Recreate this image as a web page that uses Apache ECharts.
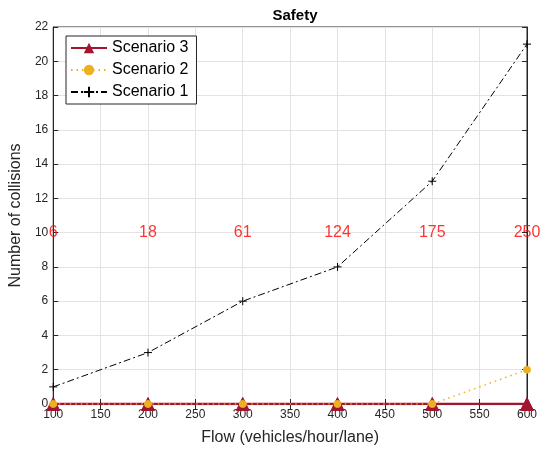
<!DOCTYPE html>
<html><head><meta charset="utf-8">
<script src="https://cdn.jsdelivr.net/npm/echarts@6/dist/echarts.min.js"></script>
<style>html,body{margin:0;padding:0;background:#fff}#c{width:540px;height:451px}</style>
</head><body><div id="c"></div>
<script>
const flow = [100, 200, 300, 400, 500, 600];
const scenario1 = [1, 3, 6, 8, 13, 21];
const scenario2 = [0, 0, 0, 0, 0, 2];
const scenario3 = [0, 0, 0, 0, 0, 0];
const annotations = ['6', '18', '61', '124', '175', '250'];
const annotationY = 10;

const font = 'Liberation Sans, Arial, Helvetica, sans-serif';
const axisCol = '#262626';
const pair = (xs, ys) => xs.map((x, i) => [x, ys[i]]);

const chart = echarts.init(document.getElementById('c'), null, {renderer: 'canvas'});
const xBase = {type: 'value', min: 100, max: 600, interval: 50};
const yBase = {type: 'value', min: 0, max: 22, interval: 2};
chart.setOption({
  animation: false,
  backgroundColor: '#fff',
  title: {text: 'Safety', left: 290, top: 3, textAlign: 'center',
    textStyle: {fontFamily: font, fontSize: 15, fontWeight: 'bold', color: '#000'}},
  grid: {left: 50, right: 11, top: 27, bottom: 46, show: true, borderColor: axisCol, borderWidth: 1},
  legend: {
    data: ['Scenario 3', 'Scenario 2', 'Scenario 1'],
    orient: 'vertical', left: 66, top: 36, itemWidth: 36, itemHeight: 13, itemGap: 6,
    padding: [4, 8, 4, 4],
    backgroundColor: '#fff', borderColor: '#262626', borderWidth: 1,
    textStyle: {fontFamily: font, fontSize: 16, color: '#000'}
  },
  xAxis: [
    Object.assign({}, xBase, {
      name: 'Flow (vehicles/hour/lane)', nameLocation: 'middle', nameGap: 26,
      nameTextStyle: {fontFamily: font, fontSize: 16, color: axisCol},
      axisLine: {lineStyle: {color: axisCol}},
      axisTick: {inside: true, length: 5, lineStyle: {color: axisCol}},
      axisLabel: {fontFamily: font, fontSize: 12, color: axisCol, margin: 5},
      splitLine: {show: true, lineStyle: {color: '#e3e3e3', width: 1}}
    }),
    Object.assign({}, xBase, {position: 'top',
      axisLine: {show: true, lineStyle: {color: axisCol}},
      axisTick: {inside: true, length: 5, lineStyle: {color: axisCol}},
      axisLabel: {show: false}, splitLine: {show: false}})
  ],
  yAxis: [
    Object.assign({}, yBase, {
      name: 'Number of collisions', nameLocation: 'middle', nameGap: 28,
      nameTextStyle: {fontFamily: font, fontSize: 16, color: axisCol},
      axisLine: {show: true, lineStyle: {color: axisCol}},
      axisTick: {show: true, inside: true, length: 5, lineStyle: {color: axisCol}},
      axisLabel: {fontFamily: font, fontSize: 12, color: axisCol, margin: 5},
      splitLine: {show: true, lineStyle: {color: '#e3e3e3', width: 1}}
    }),
    Object.assign({}, yBase, {position: 'right',
      axisLine: {show: true, lineStyle: {color: axisCol}},
      axisTick: {show: true, inside: true, length: 5, lineStyle: {color: axisCol}},
      axisLabel: {show: false}, splitLine: {show: false}})
  ],
  series: [
    {name: 'Scenario 3', type: 'line', data: pair(flow, scenario3), z: 3,
      lineStyle: {color: '#A2142F', width: 2.5}, symbol: 'triangle', symbolSize: 13,
      itemStyle: {color: '#A2142F', borderColor: '#A2142F'}, showAllSymbol: true},
    {name: 'Scenario 2', type: 'line', data: pair(flow, scenario2), z: 4,
      lineStyle: {color: '#EDB120', width: 1.5, type: [1.5, 4]}, symbol: 'circle', symbolSize: 7,
      itemStyle: {color: '#EDB120', borderColor: '#EDB120'}},
    {name: 'Scenario 1', type: 'line', data: pair(flow, scenario1), z: 5,
      lineStyle: {color: '#000', width: 1, type: [7, 3, 2, 3]},
      symbol: 'path://M0,5L10,5M5,0L5,10', symbolSize: 8,
      itemStyle: {color: 'none', borderColor: '#000', borderWidth: 1}},
    {name: 'labels', type: 'scatter', data: flow.map((x) => [x, annotationY]), symbolSize: 0, z: 6,
      label: {show: true, position: 'inside', formatter: (p) => annotations[p.dataIndex],
        fontFamily: font, fontSize: 16, color: '#ff0000'}, silent: true}
  ]
});
</script></body></html>
